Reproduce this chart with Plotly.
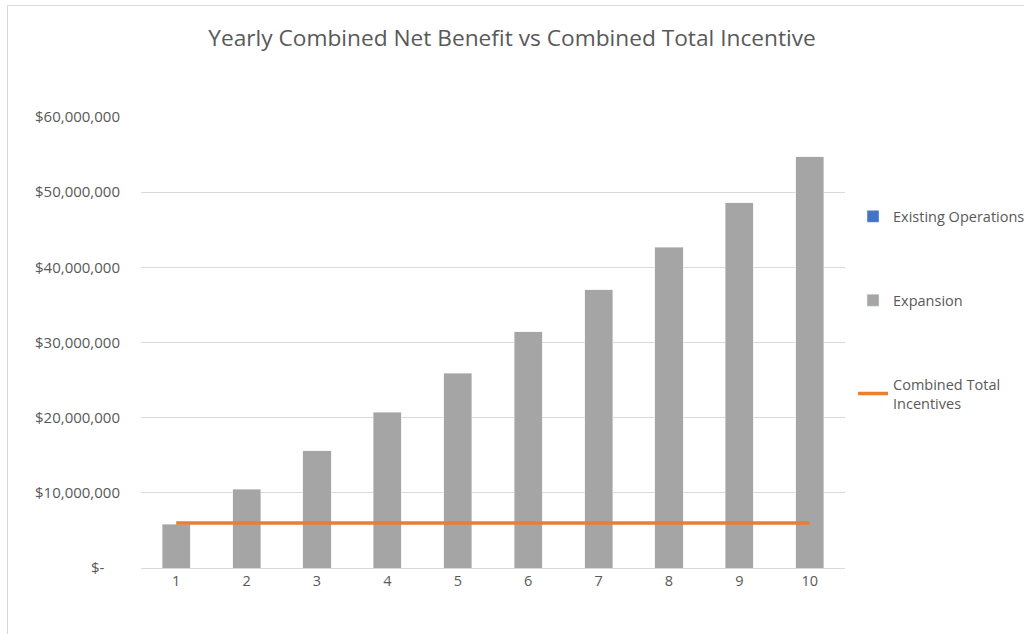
import plotly.graph_objects as go

years = ["1", "2", "3", "4", "5", "6", "7", "8", "9", "10"]
existing_operations = [0, 0, 0, 0, 0, 0, 0, 0, 0, 0]
expansion = [5800000, 10500000, 15600000, 20700000, 25900000, 31400000,
             37000000, 42700000, 48600000, 54700000]
combined_total_incentives = [6000000] * 10

y_tickvals = [0, 10000000, 20000000, 30000000, 40000000, 50000000, 60000000]
y_ticktext = ["$-    ", "$10,000,000", "$20,000,000", "$30,000,000",
              "$40,000,000", "$50,000,000", "$60,000,000"]

FONT = "Open Sans"
GREY_TXT = "#595959"

fig = go.Figure()
fig.add_trace(go.Bar(x=years, y=existing_operations, name="Existing Operations",
                     marker=dict(color="#4472C4"), legendgroup="a"))
fig.add_trace(go.Bar(x=years, y=expansion, name="Expansion",
                     marker=dict(color="#A5A5A5"), legendgroup="b"))
fig.add_trace(go.Scatter(x=years, y=combined_total_incentives, mode="lines",
                         name="Combined Total<br>Incentives",
                         line=dict(color="#ED7D31", width=3.5), legendgroup="c"))

fig.update_layout(
    width=1024, height=634,
    margin=dict(l=141, r=179, t=117, b=66, autoexpand=False),
    paper_bgcolor="white", plot_bgcolor="white",
    barmode="stack", bargap=0.6,
    title=dict(text="Yearly Combined Net Benefit vs Combined Total Incentive",
               x=0.5, xref="container", xanchor="center", y=0.94, yanchor="middle",
               font=dict(family=FONT, size=22.7, color=GREY_TXT)),
    font=dict(family=FONT, size=14, color=GREY_TXT),
    legend=dict(x=1.0114, xanchor="left", y=0.815, yanchor="top",
                tracegroupgap=62, traceorder="grouped",
                font=dict(family=FONT, size=14.5, color=GREY_TXT),
                bgcolor="rgba(0,0,0,0)"),
    xaxis=dict(type="category", showgrid=False, showline=True, linecolor="#D9D9D9",
               linewidth=1, ticks="", tickfont=dict(size=14.5, color=GREY_TXT)),
    yaxis=dict(range=[0, 60000000], tickvals=y_tickvals, ticktext=y_ticktext,
               showgrid=True, gridcolor="#D9D9D9", gridwidth=1, zeroline=False,
               showline=False, ticks="", ticklabelstandoff=20,
               tickfont=dict(size=15, color=GREY_TXT)),
    shapes=[dict(type="rect", xref="paper", yref="paper",
                 x0=(7.5 - 141) / 704, x1=(1030 - 141) / 704,
                 y0=(568 - 640) / 451, y1=(568 - 5.5) / 451,
                 line=dict(color="#D9D9D9", width=1), layer="below")],
)

fig.write_html(
    "out.html",
    config={"responsive": False, "displayModeBar": False},
    post_script="document.body.style.margin='0px';document.body.style.overflow='hidden';"
                "document.documentElement.style.overflow='hidden';",
)
